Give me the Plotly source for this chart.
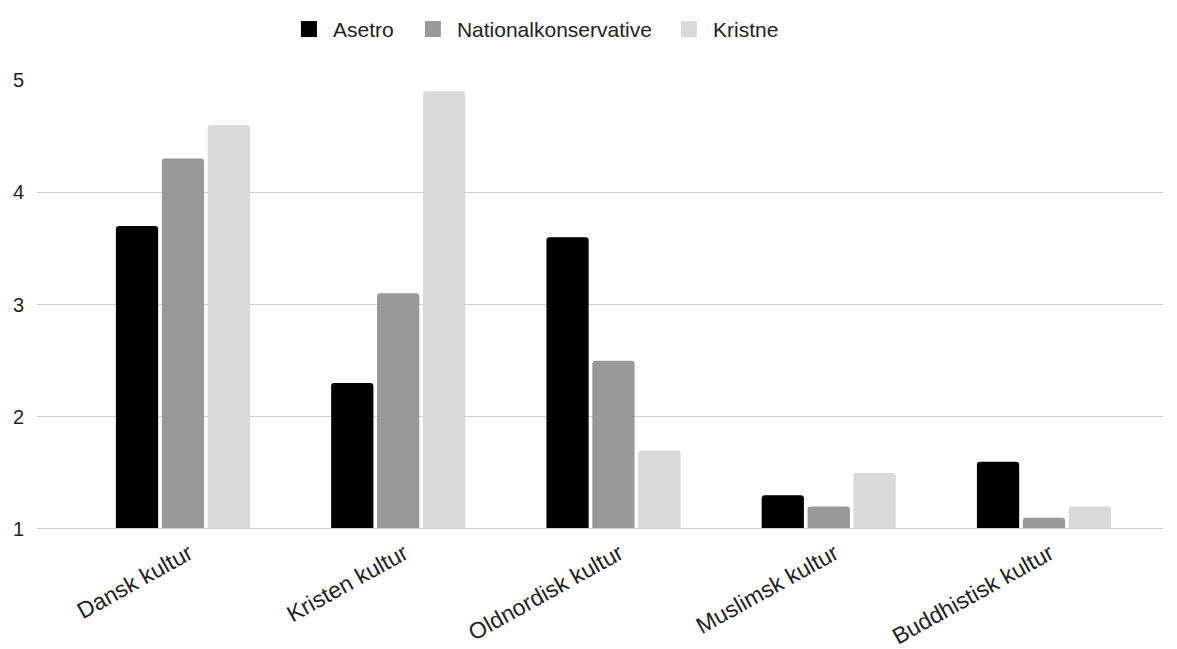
import plotly.graph_objects as go

categories = ["Dansk kultur", "Kristen kultur", "Oldnordisk kultur", "Muslimsk kultur", "Buddhistisk kultur"]
asetro = [3.7, 2.3, 3.6, 1.3, 1.6]
nationalkonservative = [4.3, 3.1, 2.5, 1.2, 1.1]
kristne = [4.6, 4.9, 1.7, 1.5, 1.2]
y_ticks = [1, 2, 3, 4, 5]

series = [("Asetro", asetro, "#000000", "legend", 0.2202),
          ("Nationalkonservative", nationalkonservative, "#999999", "legend2", 0.3303),
          ("Kristne", kristne, "#d9d9d9", "legend3", 0.5577)]

fig = go.Figure()
for name, vals, col, lg, lx in series:
    fig.add_trace(go.Bar(x=categories, y=vals, name=name, showlegend=False, legendgroup=name,
                         marker=dict(color=col, line=dict(width=0))))
    # legend-only key (no data points drawn)
    fig.add_trace(go.Scatter(x=[None], y=[None], mode="markers", name=name, legend=lg, legendgroup=name,
                             marker=dict(symbol="square", size=19, color=col, line=dict(width=0))))

legend_common = dict(orientation="h", xanchor="left", yref="container", y=0.967, yanchor="middle",
                     font=dict(size=21, color="#222222"), itemwidth=38, bgcolor="rgba(0,0,0,0)")

fig.update_layout(
    width=1177, height=649,
    margin=dict(l=29, r=22, t=72, b=128, autoexpand=False),
    paper_bgcolor="white", plot_bgcolor="white",
    font=dict(family="Liberation Sans, Arial, sans-serif", size=19, color="#222222"),
    barmode="group", bargap=0.36, bargroupgap=0.08, barcornerradius=3,
    legend=dict(x=series[0][4], **legend_common),
    legend2=dict(x=series[1][4], **legend_common),
    legend3=dict(x=series[2][4], **legend_common),
    xaxis=dict(range=[-0.678, 4.553], tickangle=-29, showgrid=False, zeroline=False, automargin=False,
               showline=False, ticks="", ticklabelshift=6, ticklabelstandoff=6,
               tickfont=dict(size=23, color="#222222")),
    yaxis=dict(range=[1, 5], tickvals=y_ticks, showgrid=True, gridcolor="#cccccc", gridwidth=1,
               zeroline=False, showline=False, ticks="", ticklabelstandoff=12, automargin=False,
               tickfont=dict(size=20, color="#222222")),
)
fig.add_shape(type="line", xref="paper", yref="y", x0=0, x1=1, y0=1, y1=1,
              line=dict(color="#cccccc", width=2), layer="above")

fig.write_html("out.html")
